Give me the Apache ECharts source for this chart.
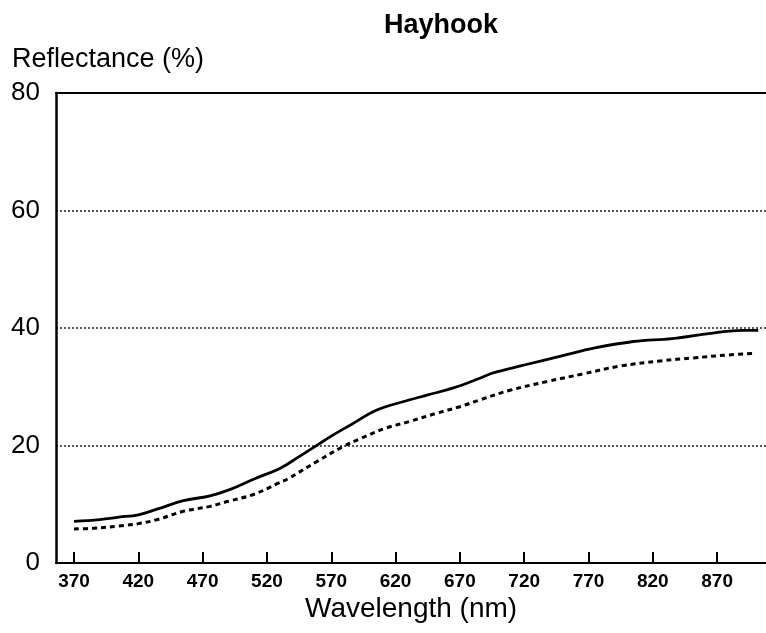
<!DOCTYPE html>
<html>
<head>
<meta charset="utf-8">
<title>Hayhook</title>
<script src="https://cdn.jsdelivr.net/npm/echarts@6/dist/echarts.min.js"></script>
<style>
  html, body { margin: 0; padding: 0; background: #fff; }
  #chart { width: 766px; height: 633px; }
</style>
</head>
<body>
<div id="chart"></div>
<script>
// Reflectance spectra (%), wavelength in nm
const solidWavelengths = [370, 390, 405, 420, 435, 455, 475, 490, 510, 530, 545, 560, 570, 585, 605, 625, 645, 665, 685, 695, 720, 750, 775, 805, 835, 865, 890, 902];
const solidValues      = [7.1, 7.4, 7.8, 8.2, 9.2, 10.6, 11.4, 12.4, 14.3, 16.1, 18.1, 20.2, 21.6, 23.5, 26.0, 27.4, 28.6, 29.8, 31.4, 32.3, 33.7, 35.3, 36.6, 37.7, 38.2, 39.1, 39.6, 39.6];

const dashedWavelengths = [370, 385, 405, 420, 435, 455, 475, 490, 510, 528, 536, 559, 579, 592, 613, 631, 652, 670, 686, 709, 738, 766, 794, 826, 851, 878, 900];
const dashedValues      = [5.8, 5.9, 6.3, 6.7, 7.4, 8.8, 9.6, 10.5, 11.7, 13.5, 14.3, 17.3, 19.8, 21.1, 23.0, 24.1, 25.5, 26.6, 27.8, 29.4, 30.9, 32.2, 33.5, 34.4, 34.9, 35.4, 35.7];

const xTickValues = [370, 420, 470, 520, 570, 620, 670, 720, 770, 820, 870];
const yTickLabels = [0, 20, 40, 60, 80];

const FONT = '"Liberation Sans", Arial, Helvetica, sans-serif';

function pairs(xs, ys) {
  return xs.map((x, i) => [x, ys[i]]);
}

const chart = echarts.init(document.getElementById('chart'), null, { renderer: 'canvas' });

chart.setOption({
  backgroundColor: '#ffffff',
  animation: false,
  title: {
    text: 'Hayhook',
    left: 436,
    top: 7,
    textAlign: 'center',
    textStyle: { fontFamily: FONT, fontSize: 27, fontWeight: 'bold', color: '#000' }
  },
  graphic: [
    {
      type: 'text',
      left: 12,
      top: 46,
      style: { text: 'Reflectance (%)', font: '27px ' + FONT, fill: '#000' }
    },
    {
      type: 'text',
      left: 305,
      top: 595,
      style: { text: 'Wavelength (nm)', font: '28px ' + FONT, fill: '#000' }
    }
  ],
  grid: { left: 56, right: 0, top: 93, bottom: 70, containLabel: false },
  xAxis: [
    {
      type: 'value',
      min: 356,
      max: 908,
      position: 'bottom',
      axisLine: { show: true, lineStyle: { color: '#000', width: 2 } },
      axisTick: {
        show: true,
        inside: true,
        length: 11,
        customValues: xTickValues,
        lineStyle: { color: '#000', width: 2 }
      },
      axisLabel: {
        show: true,
        customValues: xTickValues,
        margin: 9,
        fontFamily: FONT,
        fontSize: 19,
        fontWeight: 'bold',
        color: '#000'
      },
      splitLine: { show: false }
    },
    {
      type: 'value',
      min: 356,
      max: 908,
      position: 'top',
      axisLine: { show: true, lineStyle: { color: '#000', width: 2 } },
      axisTick: { show: false },
      axisLabel: { show: false },
      splitLine: { show: false }
    }
  ],
  yAxis: {
    type: 'value',
    min: 0,
    max: 80,
    interval: 20,
    axisLine: { show: true, lineStyle: { color: '#000', width: 2.5 } },
    axisTick: { show: false },
    axisLabel: {
      margin: 16,
      fontFamily: FONT,
      fontSize: 26,
      color: '#000',
      padding: [10, 0, 0, 0],
      formatter: (v) => (yTickLabels.indexOf(v) >= 0 ? String(v) : '')
    },
    splitLine: {
      show: true,
      showMinLine: false,
      showMaxLine: false,
      lineStyle: { color: '#222', width: 1.5, type: [2, 2] }
    }
  },
  series: [
    {
      name: 'solid',
      type: 'line',
      xAxisIndex: 0,
      data: pairs(solidWavelengths, solidValues),
      smooth: 0.4,
      showSymbol: false,
      lineStyle: { color: '#000', width: 2.8, type: 'solid' }
    },
    {
      name: 'dashed',
      type: 'line',
      xAxisIndex: 0,
      data: pairs(dashedWavelengths, dashedValues),
      smooth: 0.4,
      showSymbol: false,
      lineStyle: { color: '#000', width: 3, type: [5, 4] }
    }
  ]
});
</script>
</body>
</html>
